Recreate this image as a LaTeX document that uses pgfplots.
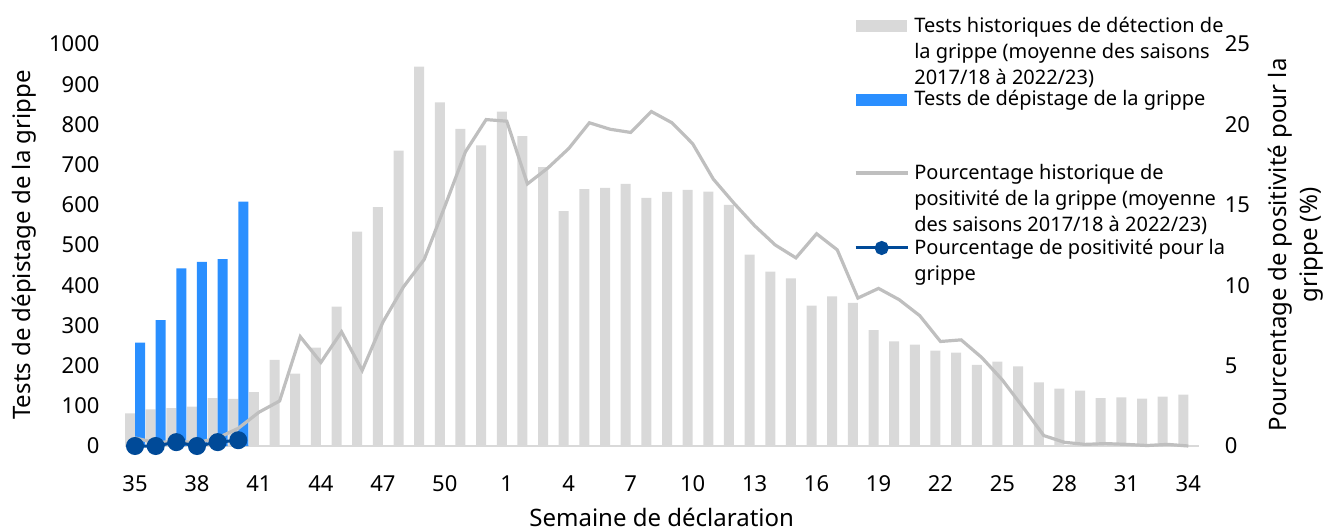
\documentclass[border=0pt]{standalone}
\usepackage{fontspec}
\setmainfont{Noto Sans}
\usepackage{pgfplots}
\usepackage{pgfplotstable}
\pgfplotsset{compat=1.18}
\definecolor{histgray}{HTML}{D9D9D9}
\definecolor{testblue}{HTML}{2A8FFF}
\definecolor{linegray}{HTML}{BFBFBF}
\definecolor{posblue}{HTML}{004A98}

% x position: 0 = week 35 ... 17 = week 52, 18 = week 1 ... 51 = week 34
\pgfplotstableread{
x y
0 81
1 91
2 94
3 98
4 119
5 117
6 134
7 214
8 180
9 245
10 347
11 533
12 594
13 735
14 944
15 855
16 789
17 748
18 832
19 771
20 694
21 584
22 639
23 642
24 652
25 617
26 632
27 637
28 633
29 600
30 476
31 434
32 417
33 349
34 372
35 356
36 288
37 260
38 252
39 237
40 232
41 202
42 210
43 198
44 158
45 143
46 138
47 119
48 121
49 118
50 123
51 128
}\histtests

\pgfplotstableread{
x y
0 257
1 313
2 442
3 458
4 465
5 608
}\tests

\pgfplotstableread{
x y
0 0.5
1 0.2
2 0.3
3 0.2
4 0.5
5 1.1
6 2.1
7 2.8
8 6.8
9 5.2
10 7.1
11 4.7
12 7.7
13 9.9
14 11.6
15 14.9
16 18.3
17 20.3
18 20.2
19 16.3
20 17.3
21 18.5
22 20.1
23 19.7
24 19.5
25 20.8
26 20.1
27 18.8
28 16.6
29 15.1
30 13.7
31 12.5
32 11.7
33 13.2
34 12.2
35 9.2
36 9.8
37 9.1
38 8.1
39 6.5
40 6.6
41 5.5
42 4.1
43 2.4
44 0.65
45 0.23
46 0.1
47 0.15
48 0.1
49 0.03
50 0.1
51 0.0
}\histpos

\pgfplotstableread{
x y
0 0
1 0
2 0.24
3 0
4 0.24
5 0.36
}\pos

\newcommand{\lgtext}[1]{\smash{\parbox[t]{340pt}{\fontsize{20}{26}\selectfont #1}}}

\pgfplotsset{
  base/.style={
    scale only axis, width=1074pt, height=402pt,
    xmin=-0.5, xmax=51.5,
    major tick length=0pt,
    tick label style={font=\fontsize{22}{26}\selectfont},
    /pgf/number format/assume math mode=true,
    /pgf/number format/1000 sep={},
  }
}

\begin{document}
\begin{tikzpicture}
\useasboundingbox (-124.7pt,-85pt) rectangle (1198.3pt,446pt);
\begin{axis}[base,
  ymin=0, ymax=1000, ytick={0,100,...,1000},
  axis y line*=left, axis x line*=bottom,
  y axis line style={draw=none},
  x axis line style={draw=histgray, line width=1.5pt, -},
  xtick={0,3,...,51},
  xticklabels={35,38,41,44,47,50,1,4,7,10,13,16,19,22,25,28,31,34},
  xticklabel style={anchor=base, inner sep=0pt, yshift=-45pt},
  yticklabel style={anchor=east, inner sep=0pt, xshift=-25pt},
  ylabel={Tests de dépistage de la grippe},
  every axis y label/.style={at={(axis description cs:-0.0935,0.5)}, rotate=90, anchor=center, font=\fontsize{24}{30}\selectfont},
  xlabel={Semaine de déclaration},
  every axis x label/.style={at={(axis description cs:0.5,0)}, anchor=base, inner sep=0pt, yshift=-80pt, font=\fontsize{24}{30}\selectfont},
]
\addplot[ybar, bar width=10pt, bar shift=-5pt, fill=histgray, draw=none] table {\histtests};
\addplot[ybar, bar width=10pt, bar shift=5pt, fill=testblue, draw=none] table {\tests};
\end{axis}
\begin{axis}[base,
  ymin=0, ymax=25, ytick={0,5,...,25},
  axis y line*=right, axis x line=none,
  y axis line style={draw=none},
  yticklabel style={anchor=west, inner sep=0pt, xshift=26pt},
  ylabel={Pourcentage de positivité pour la\\grippe (\%)},
  every axis y label/.style={at={(axis description cs:1.0905,0.5)}, rotate=90, anchor=center, align=center, font=\fontsize{24}{31}\selectfont},
  clip=false,
  legend style={at={(axis description cs:0.679,1.059)}, anchor=north west,
    draw=none, fill=none, inner sep=0pt, row sep=60pt, column sep=5pt,
    nodes={inner sep=0pt}, cells={anchor=base west}},
]
\addlegendimage{legend image code/.code={\path[draw=none,fill=none] (0pt,0pt) rectangle (52pt,12pt); \fill[histgray, draw=none] (0pt,0pt) rectangle (51pt,12pt);}}
\addlegendentry{\lgtext{Tests historiques de détection de\\la grippe (moyenne des saisons\\2017/18 à 2022/23)}}
\addlegendimage{legend image code/.code={\path[draw=none,fill=none] (0pt,0pt) rectangle (52pt,12pt); \fill[testblue, draw=none] (0pt,0pt) rectangle (51pt,12pt);}}
\addlegendentry{\lgtext{Tests de dépistage de la grippe}}
\addplot[linegray, line width=3.2pt, no marks,
  legend image code/.code={\path[draw=none,fill=none] (0pt,0pt) rectangle (52pt,12pt); \draw[linegray, line width=3.2pt] (0pt,6.5pt) -- (52pt,6.5pt);}]
  table {\histpos};
\addlegendentry{\lgtext{Pourcentage historique de\\positivité de la grippe (moyenne\\des saisons 2017/18 à 2022/23)}}
\addplot[posblue, line width=3pt, mark=*, mark size=7.5pt, mark options={fill=posblue, draw=posblue},
  legend image code/.code={\path[draw=none,fill=none] (0pt,0pt) rectangle (52pt,12pt); \draw[posblue, line width=3pt] (0pt,6.5pt) -- (52pt,6.5pt); \fill[posblue] (26pt,6.5pt) circle (5.5pt);}]
  table {\pos};
\addlegendentry{\lgtext{Pourcentage de positivité pour la\\grippe}}
\end{axis}
\end{tikzpicture}
\end{document}
